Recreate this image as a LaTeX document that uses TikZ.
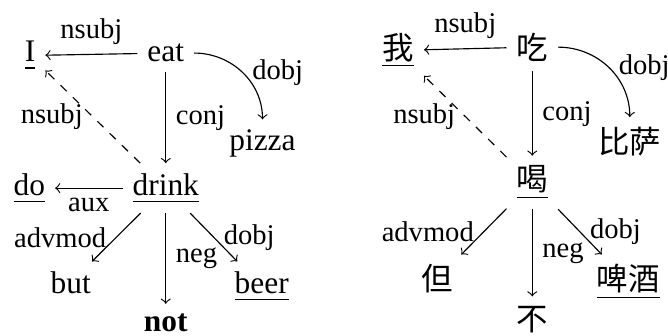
\documentclass[tikz,border=0pt]{standalone}
\usepackage{fontspec}
\setmainfont{Liberation Serif}
\newfontfamily\cjk{Noto Sans CJK SC}
\newcommand{\uword}[1]{\underline{#1\rule[-0.8pt]{0pt}{1pt}}}

\tikzset{
  word/.style={anchor=base, font=\fontsize{11}{13}\selectfont},
  hanzi/.style={anchor=base, font=\fontsize{11}{13}\selectfont\cjk},
  dep/.style={font=\fontsize{10}{12}\selectfont},
}

\begin{document}
\begin{tikzpicture}
  \useasboundingbox (0,0) rectangle (8.22,4.13);
  % english tree
  \path (0.37,3.37) node[word] (i) {\uword{I}};
  \path (2.04,3.37) node[word] (eat) {eat};
  \path (3.23,2.28) node[word] (pizza) {pizza};
  \path (2.04,1.73) node[word] (drink) {\uword{drink}};
  \path (0.36,1.73) node[word] (do) {\uword{do}};
  \path (0.87,0.52) node[word] (but) {but};
  \path (3.22,0.52) node[word] (beer) {\uword{beer}};
  \path (2.04,0.05) node[word] (not) {\textbf{not}};
  \draw[->] (eat) -- node[dep,above] (e1) {nsubj} (i);
  \draw[->] (eat) to[out=0,in=90] node[dep,right] (e2) {dobj} (pizza);
  \draw[->] (eat) -- node[dep,right] (e3) {conj} (drink);
  \draw[->,dashed] (drink) -- node[dep,left] (e4) {nsubj} (i);
  \draw[->] (drink) -- node[dep,below] (e5) {aux} (do);
  \draw[->] (drink) -- node[dep,left] (e6) {advmod} (but);
  \draw[->] (drink) -- node[dep,right] (e7) {neg} (not);
  \draw[->] (drink) -- node[dep,right] (e8) {dobj} (beer);
  % chinese tree
  \path (4.90,3.40) node[hanzi] (wo) {\uword{我}};
  \path (6.55,3.40) node[hanzi] (chi) {吃};
  \path (7.75,2.24) node[hanzi] (bisa) {比萨};
  \path (6.55,1.78) node[hanzi] (he) {\uword{喝}};
  \path (5.38,0.55) node[hanzi] (dan) {但};
  \path (7.73,0.55) node[hanzi] (pijiu) {\uword{啤酒}};
  \path (6.55,0.06) node[hanzi] (bu) {不};
  \draw[->] (chi) -- node[dep,above] (c1) {nsubj} (wo);
  \draw[->] (chi) to[out=0,in=90] node[dep,right] (c2) {dobj} (bisa);
  \draw[->] (chi) -- node[dep,right] (c3) {conj} (he);
  \draw[->,dashed] (he) -- node[dep,left] (c4) {nsubj} (wo);
  \draw[->] (he) -- node[dep,left] (c5) {advmod} (dan);
  \draw[->] (he) -- node[dep,right] (c6) {neg} (bu);
  \draw[->] (he) -- node[dep,right] (c7) {dobj} (pijiu);
\end{tikzpicture}
\end{document}
